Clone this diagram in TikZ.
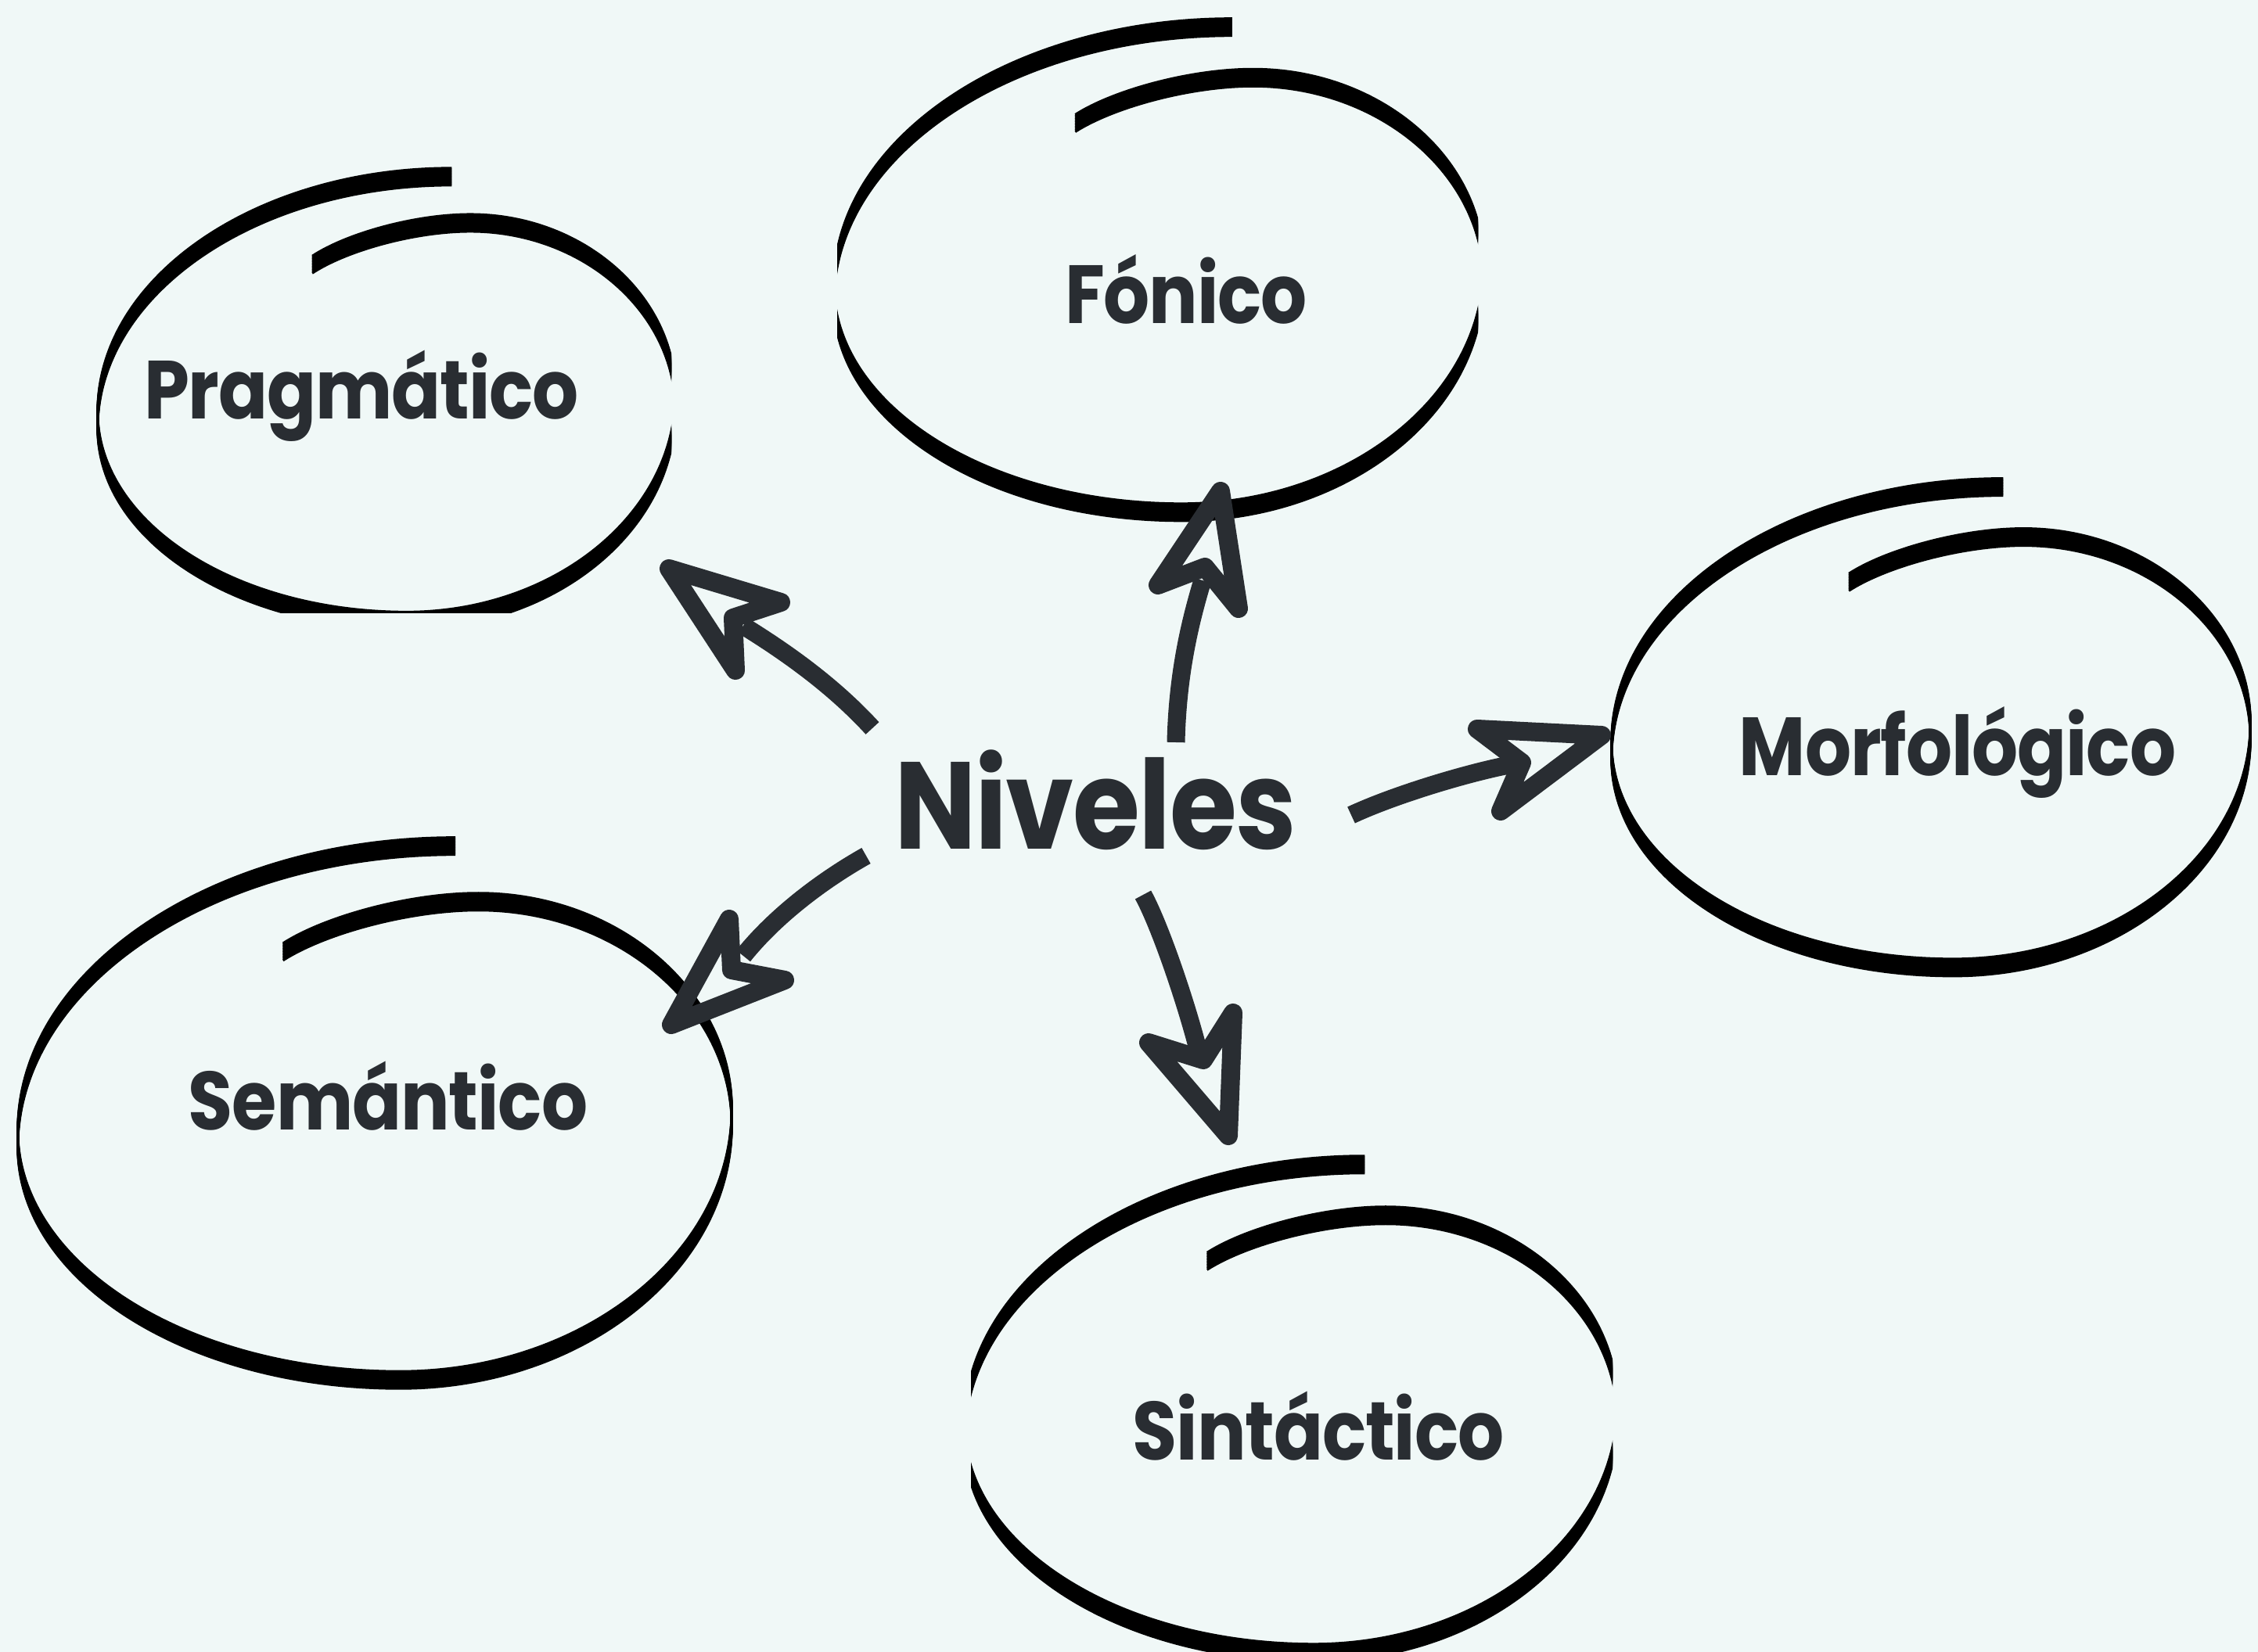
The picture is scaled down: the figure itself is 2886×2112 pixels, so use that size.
\documentclass[tikz,border=0pt]{standalone}
\usepackage{fontspec}
\setmainfont{Poppins}[FakeStretch=0.88,LetterSpace=-1]

\definecolor{paper}{HTML}{F0F8F7}
\definecolor{ink}{HTML}{292D32}

\tikzset{
  lvl/.style={anchor=base,inner sep=0pt,text=ink,font=\bfseries\fontsize{30}{30}\selectfont},
  big/.style={font=\bfseries\fontsize{45}{45}\selectfont},
  shaft/.style={draw=ink,line width=0.23cm},
  head/.style={draw=ink,line width=0.24cm,line join=round},
  scribble line/.style={draw=black,line width=0.03cm},
  scribble/.pic={
    \foreach \d in {-11,-9,...,11}
      \draw[scribble line,yshift=\d*0.01cm] (0.226,0.969)
        .. controls (-0.45,0.969) and (-1.0,0.49) .. (-1.0,-0.1)
        .. controls (-1.0,-0.59) and (-0.52,-0.98) .. (0.07,-0.98)
        .. controls (0.58,-0.98) and (1.0,-0.55) .. (1.0,-0.02)
        .. controls (1.0,0.41) and (0.68,0.766) .. (0.29,0.766)
        .. controls (0.1,0.766) and (-0.137,0.683) .. (-0.257,0.583);
  }
}

\begin{document}
\begin{tikzpicture}[x=0.01cm,y=-0.01cm]
  \fill[paper] (0,0) rectangle (2886,2112);
  \useasboundingbox (0,0) rectangle (2886,2112);

  % hand drawn rings
  \begin{scope}
    \clip (1070,0) rectangle (1889,2112);
    \begin{scope}[shift={(1481,343)},x=4.15cm,y=3.18cm]
      \pic {scribble};
    \end{scope}
  \end{scope}
  \begin{scope}
    \clip (0,0) rectangle (858,783);
    \begin{scope}[shift={(494,508)},x=3.69cm,y=2.91cm]
      \pic {scribble};
    \end{scope}
  \end{scope}
  \begin{scope}[shift={(2468,928)},x=4.08cm,y=3.15cm]
    \pic {scribble};
  \end{scope}
  \begin{scope}[shift={(479,1421)},x=4.56cm,y=3.50cm]
    \pic {scribble};
  \end{scope}
  \begin{scope}
    \clip (1241,0) rectangle (2061,2112);
    \begin{scope}[shift={(1650,1799)},x=4.17cm,y=3.20cm]
      \pic {scribble};
    \end{scope}
  \end{scope}

  % labels
  \node[lvl] (fonico) at (1516,413) {Fónico};
  \node[lvl] (pragmatico) at (462,535) {Pragmático};
  \node[lvl] (morfologico) at (2502,991) {Morfológico};
  \node[lvl] (semantico) at (496,1444) {Semántico};
  \node[lvl] (sintactico) at (1685,1866) {Sintáctico};
  \node[lvl,big] (niveles) at (1400,1085) {Niveles};

  % arrow tips
  \coordinate (fonicoTip) at (1560,628);
  \coordinate (pragmaticoTip) at (855,727);
  \coordinate (semanticoTip) at (858,1310);
  \coordinate (sintacticoTip) at (1570,1452);
  \coordinate (morfologicoTip) at (2047,940);

  \draw[shaft] ([shift={(103,-136)}]niveles.base) .. controls +(2,-90) and +(-15,50) .. ([shift={(-23,114)}]fonicoTip);
  \draw[head] (fonicoTip) ++(-80,120) -- (fonicoTip) -- ++(23,150) -- ++(-43,-53) -- cycle;

  \draw[shaft] ([shift={(-285,-154)}]niveles.base) .. controls +(-55,-60) and +(45,28) .. ([shift={(95,73)}]pragmaticoTip);
  \draw[head] (pragmaticoTip) ++(143,43) -- (pragmaticoTip) -- ++(85,130) -- ++(-3,-67) -- cycle;

  \draw[shaft] ([shift={(-293,9)}]niveles.base) .. controls +(-57,32) and +(40,-50) .. ([shift={(92,-88)}]semanticoTip);
  \draw[head] (semanticoTip) ++(74,-135) -- (semanticoTip) -- ++(145,-57) -- ++(-68,-13) -- cycle;

  \draw[shaft] ([shift={(61,59)}]niveles.base) .. controls +(22,40) and +(-15,-60) .. ([shift={(-38,-107)}]sintacticoTip);
  \draw[head] (sintacticoTip) ++(-102,-119) -- (sintacticoTip) -- ++(6,-157) -- ++(-38,60) -- cycle;

  \draw[shaft] ([shift={(327,-43)}]niveles.base) .. controls +(60,-28) and +(-50,8) .. ([shift={(-107,36)}]morfologicoTip);
  \draw[head] (morfologicoTip) ++(-159,-8) -- (morfologicoTip) -- ++(-129,97) -- ++(27,-62) -- cycle;
\end{tikzpicture}
\end{document}
